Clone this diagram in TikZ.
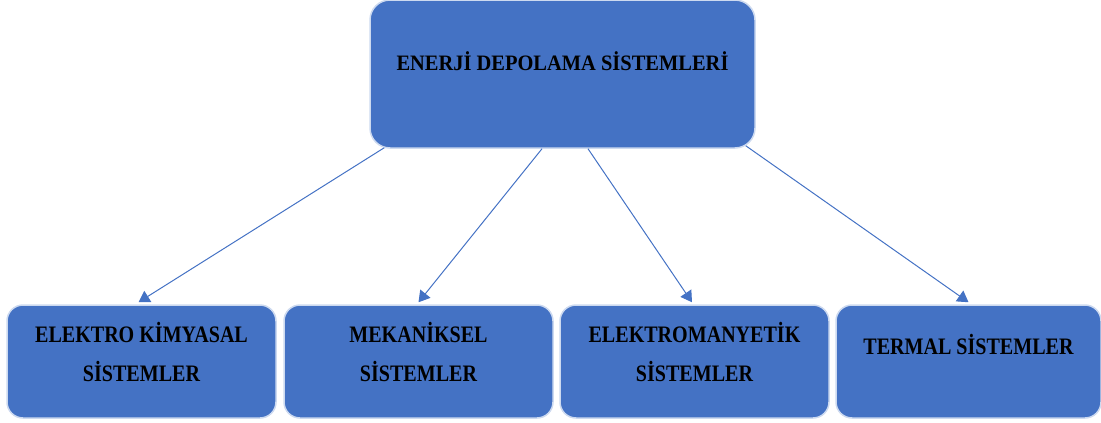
\documentclass[tikz,border=0pt]{standalone}
\usepackage{fontspec}
\newfontfamily\boxfont[FakeStretch=0.85]{Liberation Serif}
\newfontfamily\headfont[FakeStretch=0.93]{Liberation Serif}
\usepackage{tikz}
\usetikzlibrary{arrows.meta}
\definecolor{boxblue}{RGB}{68,114,196}
\definecolor{rimblue}{RGB}{205,218,240}

\begin{document}
\begin{tikzpicture}[x=1pt,y=1pt]
    \tikzstyle{every node}+=[inner sep=0pt]
    \tikzstyle{sysbox}=[draw=rimblue, line width=1.5pt, fill=boxblue, rounded corners=16pt,
        minimum height=113pt, align=center, text height=54pt, text depth=14pt,
        font=\boxfont\bfseries\fontsize{23.6}{39}\selectfont]
    \tikzstyle{conn}=[draw=boxblue, line width=1pt, -{Triangle[length=11pt,width=13pt]}]
    \useasboundingbox (0,0) rectangle (1101,-423);
    % main box
    \node [sysbox, minimum width=385pt, minimum height=148pt, rounded corners=20pt,
        text height=15pt, text depth=23pt,
        font=\headfont\bfseries\fontsize{22}{27}\selectfont] (eds) at (562.5,-74) {ENERJİ DEPOLAMA SİSTEMLERİ};
    % sub systems
    \node [sysbox, minimum width=269pt] (kim) at (141.5,-361.5) {ELEKTRO KİMYASAL\\SİSTEMLER};
    \node [sysbox, minimum width=269pt] (mek) at (418.5,-361.5) {MEKANİKSEL\\SİSTEMLER};
    \node [sysbox, minimum width=269pt] (emy) at (694.5,-361.5) {ELEKTROMANYETİK\\SİSTEMLER};
    \node [sysbox, minimum width=265pt, text height=15pt, text depth=29pt] (ter) at (968.5,-361.5) {TERMAL SİSTEMLER};
    % connectors
    \draw [conn] ([xshift=15pt,yshift=1pt]eds.south west) -- ([xshift=-3pt,yshift=2pt]kim.north);
    \draw [conn] ([xshift=-20.5pt]eds.south) -- ([yshift=2pt]mek.north);
    \draw [conn] ([xshift=25.5pt]eds.south) -- ([xshift=-2.5pt,yshift=2pt]emy.north);
    \draw [conn] ([xshift=-10pt,yshift=3pt]eds.south east) -- ([yshift=2pt]ter.north);
\end{tikzpicture}
\end{document}
